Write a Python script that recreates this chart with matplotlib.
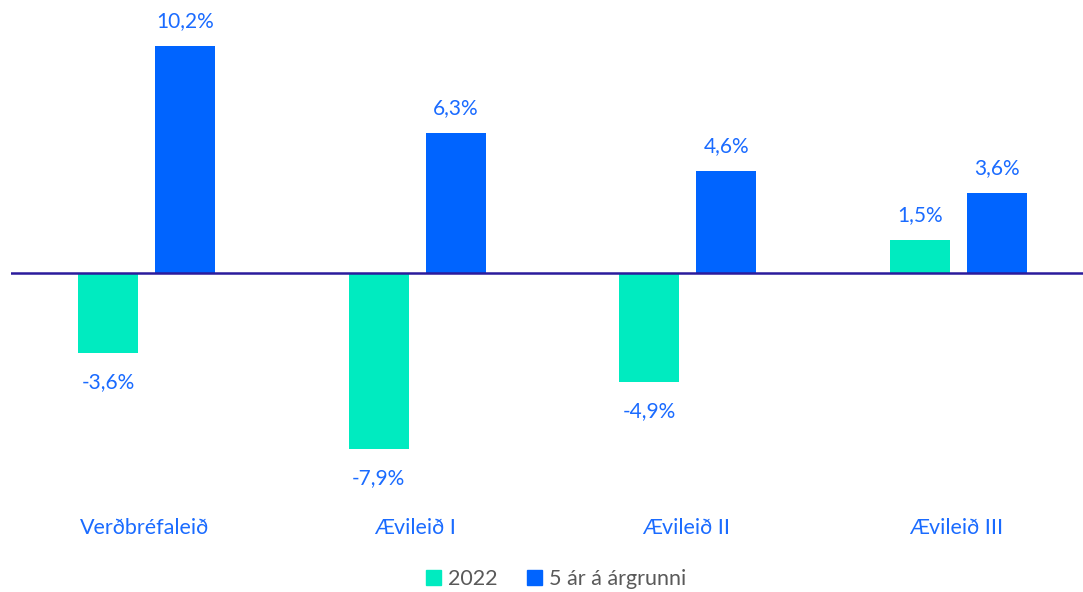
import numpy as np
import matplotlib.pyplot as plt
from matplotlib.patches import Patch

categories = ['Verðbréfaleið', 'Ævileið I', 'Ævileið II', 'Ævileið III']
ret_2022 = [-3.6, -7.9, -4.9, 1.5]
ret_5yr = [10.2, 6.3, 4.6, 3.6]
series_names = ['2022', '5 ár á árgrunni']

teal = '#00EBC0'
blue = '#0064FF'
label_blue = '#1A6BFF'

plt.rcParams['font.family'] = ['Lato', 'DejaVu Sans']

fig = plt.figure(figsize=(10.83, 5.92), dpi=100)
W, H = 1083, 592
# axes placed in pixel terms: left 11, right 1094, top 20, bottom 510
ax = fig.add_axes([11 / W, (H - 510) / H, (1094 - 11) / W, (510 - 20) / H])

x = np.arange(len(categories))
bw = 0.222
off = 0.142
b1 = ax.bar(x - off, ret_2022, bw, color=teal)
b2 = ax.bar(x + off, ret_5yr, bw, color=blue)

ax.set_xlim(-0.5, 3.5)
ax.set_ylim(-10.65, 11.37)
ax.axhline(0, color='#2B1B9C', lw=1.8, zorder=3)

for bars in (b1, b2):
    for r in bars:
        v = r.get_height()
        xc = r.get_x() + r.get_width() / 2
        txt = f'{v:.1f}%'.replace('.', ',')
        if v >= 0:
            ax.annotate(txt, (xc, v), xytext=(0, 18), textcoords='offset points',
                        ha='center', va='center', fontsize=15, color=label_blue)
        else:
            ax.annotate(txt, (xc, v), xytext=(0, -21), textcoords='offset points',
                        ha='center', va='center', fontsize=15, color=label_blue)

for i, c in enumerate(categories):
    fig.text((11 + (i + 0.5) * 1083 / 4 - 2) / W, (H - 528) / H, c,
             ha='center', va='center', fontsize=15.5, color=label_blue)

ax.set_xticks([])
ax.set_yticks([])
for s in ax.spines.values():
    s.set_visible(False)

handles = [Patch(color=teal), Patch(color=blue)]
fig.legend(handles, series_names, loc='center', bbox_to_anchor=(556 / W, (H - 579) / H),
           ncol=2, frameon=False, fontsize=15.5, labelcolor='#595959',
           handlelength=0.7, handleheight=0.7, handletextpad=0.3, columnspacing=1.4)

fig.savefig('out.png', dpi=100)
